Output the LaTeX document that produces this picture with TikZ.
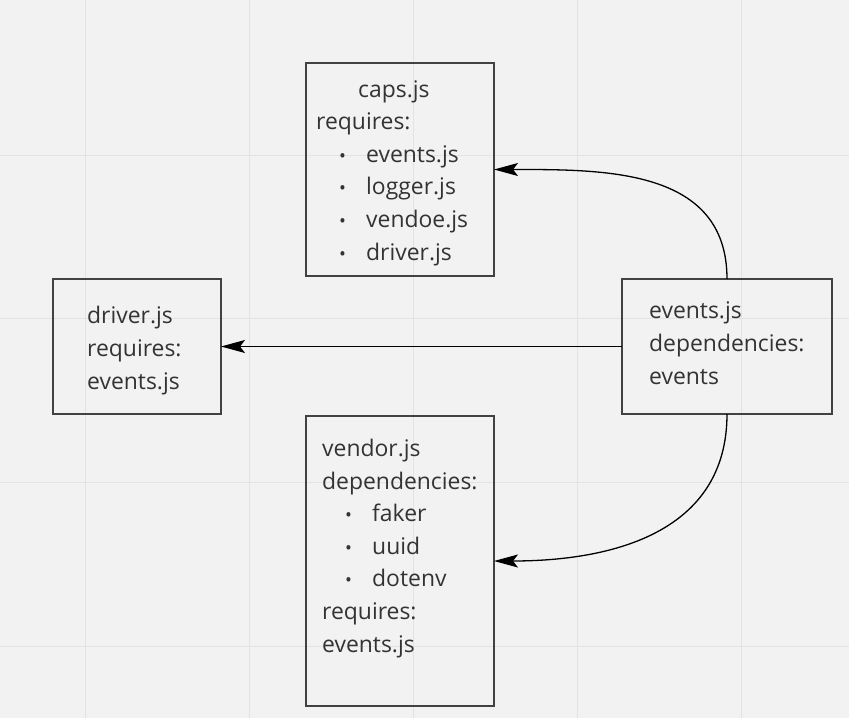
\documentclass[tikz,border=0pt]{standalone}
\usepackage{fontspec}
\setmainfont{Open Sans}
\usepackage{xcolor}
\usepackage{tikz}
\usetikzlibrary{arrows.meta}
\definecolor{bgcol}{HTML}{F2F2F2}
\definecolor{gridcol}{HTML}{E3E3E3}
\definecolor{boxcol}{HTML}{424242}
\definecolor{txtcol}{HTML}{333333}
\tikzset{
  modbox/.style={draw=boxcol, line width=1.7pt, inner sep=0, outer sep=0},
  modtext/.style={anchor=base west, align=left, inner sep=0, text=txtcol,
    font=\fontsize{22.9}{32.6}\selectfont},
  dep/.style={black, line width=1.3pt, -{Stealth[length=24pt,width=13pt,inset=5pt]}}
}
\newcommand{\bitem}[1]{\makebox[50pt][l]{\hspace*{23pt}\scalebox{.8}{\textbullet}}#1}

\begin{document}
\begin{tikzpicture}[x=1pt,y=-1pt]
\useasboundingbox (0,0) rectangle (849,718);
\fill[bgcol] (0,0) rectangle (849,718);
\foreach \x in {85,249,413,577,741} \draw[gridcol, line width=1pt] (\x,0) -- (\x,718);
\foreach \y in {155,318,482,646} \draw[gridcol, line width=1pt] (0,\y) -- (849,\y);

% boxes
\node[modbox, minimum width=188pt, minimum height=213pt] (caps) at (400,169.5) {};
\node[modbox, minimum width=168pt, minimum height=135pt] (driver) at (137,346.5) {};
\node[modbox, minimum width=210pt, minimum height=135pt] (events) at (727,346.5) {};
\node[modbox, minimum width=188pt, minimum height=290pt] (vendor) at (400,561) {};

% texts (anchored at the baseline of the last line)
\node[modtext] (capstext) at (316,260) {\hspace*{42pt}caps.js\\requires:\\\bitem{events.js}\\\bitem{logger.js}\\\bitem{vendoe.js}\\\bitem{driver.js}};
\node[modtext] (drivertext) at (87,389) {driver.js\\requires:\\events.js};
\node[modtext] (eventstext) at (649,384) {events.js\\dependencies:\\events};
\node[modtext] (vendortext) at (322,652) {vendor.js\\dependencies:\\\bitem{faker}\\\bitem{uuid}\\\bitem{dotenv}\\requires:\\events.js};

% arrows
\draw[dep] (events.west) -- (driver.east);
\draw[dep] (events.north) to[out=90, in=0, looseness=1.1] (caps.east);
\draw[dep] (events.south) to[out=-90, in=0, looseness=1.1] (vendor.east);
\end{tikzpicture}
\end{document}
